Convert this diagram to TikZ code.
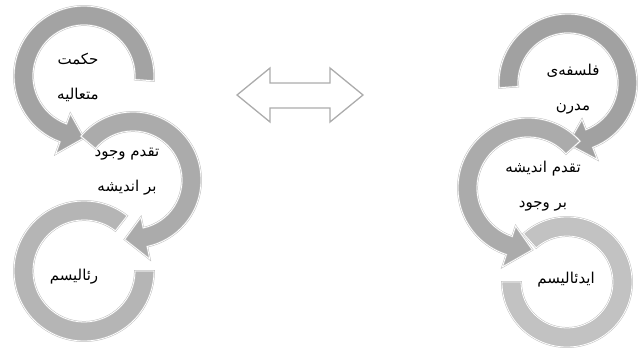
\documentclass[tikz,border=0pt]{standalone}
\usepackage{fontspec}
\newfontfamily\arabicfont[Script=Arabic]{DejaVu Sans}
\TeXXeTstate=1

\tikzset{
  ring/.style={fill=#1, draw=gray!50, double=white, double distance=0.8pt, line width=0.5pt},
  ring/.default=gray!70,
  ringtext/.style={font=\arabicfont\fontsize{15}{35}\selectfont, align=center, text=black},
  twoway/.style={draw=gray!65, line width=1.3pt, fill=white, line join=miter}
}

% ring with arrow head: [shade], centre x, centre y, outer radius, tail angle, head angle, tip angle
\newcommand{\ringarrow}[7][gray!70]{%
  \pgfmathsetmacro\rout{#4}
  \pgfmathsetmacro\rin{#4-19}
  \pgfmathsetmacro\rmid{#4-8}
  \pgfmathsetmacro\hout{#4+13}
  \pgfmathsetmacro\hin{#4-30}
  \begin{scope}[shift={(#2,#3)}]
    \filldraw[ring=#1] (#5:\rout pt) arc[start angle=#5, end angle=#6, radius=\rout pt]
      -- (#6:\hout pt) -- (#7:\rmid pt) -- (#6:\hin pt) -- (#6:\rin pt)
      arc[start angle=#6, end angle=#5, radius=\rin pt] -- cycle;
  \end{scope}}
% ring with a flat end: [shade], centre x, centre y, outer radius, tail angle, end angle
\newcommand{\ringend}[6][gray!55]{%
  \pgfmathsetmacro\rout{#4}
  \pgfmathsetmacro\rin{#4-19}
  \begin{scope}[shift={(#2,#3)}]
    \filldraw[ring=#1] (#5:\rout pt) arc[start angle=#5, end angle=#6, radius=\rout pt]
      -- (#6:\rin pt) arc[start angle=#6, end angle=#5, radius=\rin pt] -- cycle;
  \end{scope}}

\begin{document}
\begin{tikzpicture}[x=1pt, y=1pt]
    \useasboundingbox (0,0) rectangle (639,354);

    % left cycle
    \ringarrow[gray!72]{84}{278}{70}{-4}{250}{270}
    \ringarrow[gray!66]{133}{174}{68}{140}{-78}{-98}
    \ringend[gray!58]{84}{83}{70}{52}{360}

    \node[ringtext] (wisdom) at (78,277) {\beginR حکمت\endR\\\beginR متعالیه\endR};
    \node[ringtext] (existence) at (127,182) {\beginR تقدم وجود\endR\\\beginR بر اندیشه\endR};
    \node[ringtext] (realism) at (74,77) {\beginR رئالیسم\endR};

    % two-way arrow
    \draw[twoway] (237,259) -- (270,286) -- (270,271) -- (330,271) -- (330,286)
        -- (363,259) -- (330,232) -- (330,246) -- (270,246) -- (270,232) -- cycle;

    % right cycle
    \ringarrow[gray!74]{568}{271}{69}{184}{-69}{-90}
    \ringarrow[gray!66]{528}{166}{70}{42}{252}{274}
    \ringend[gray!48]{567}{72}{65}{132}{-180}

    \node[ringtext] (modern) at (573,265) {\beginR فلسفه‌ی\endR\\\beginR مدرن\endR};
    \node[ringtext] (thought) at (543,168) {\beginR تقدم اندیشه\endR\\\beginR بر وجود\endR};
    \node[ringtext] (idealism) at (566,74) {\beginR ایدئالیسم\endR};
\end{tikzpicture}
\end{document}
